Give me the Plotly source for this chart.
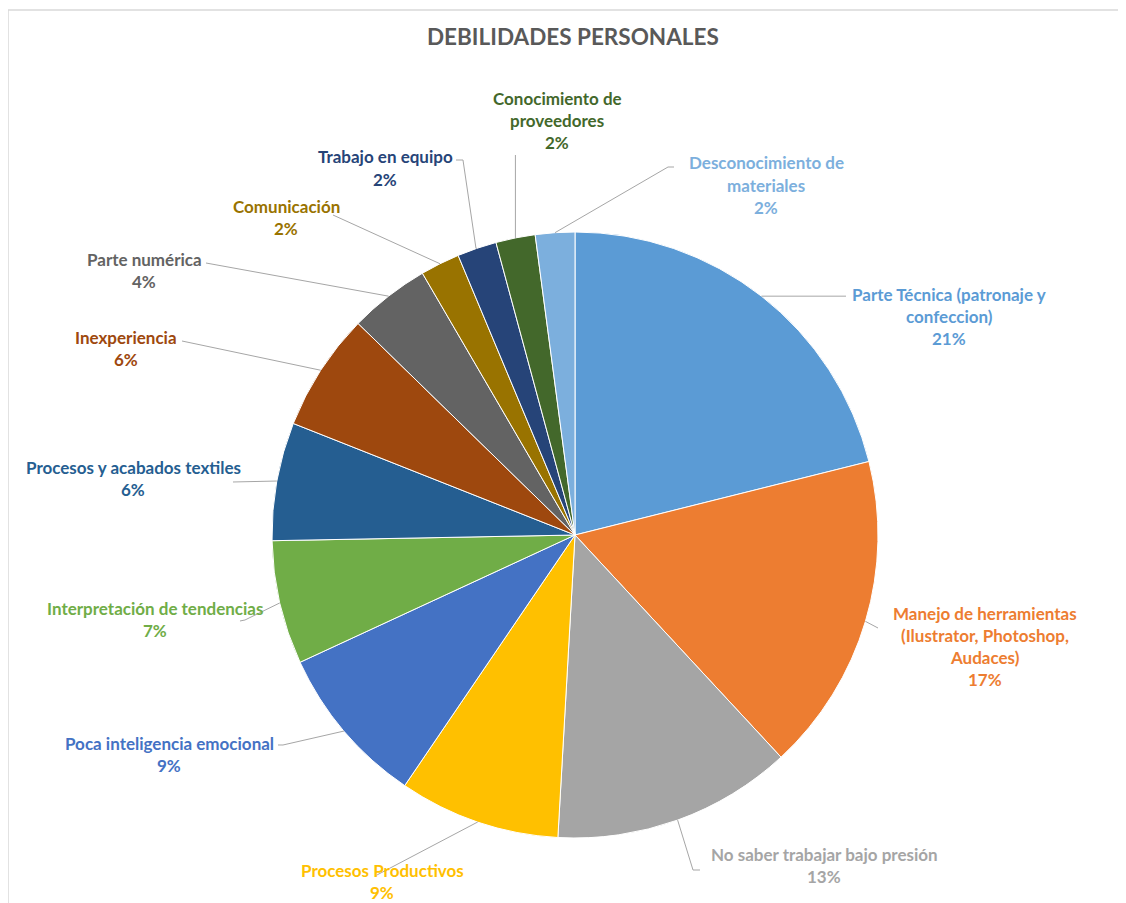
import math
import plotly.graph_objects as go

# ---------------- data ----------------
categories = [
    "Parte Técnica (patronaje y confeccion)",
    "Manejo de herramientas (Ilustrator, Photoshop, Audaces)",
    "No saber trabajar bajo presión",
    "Procesos Productivos",
    "Poca inteligencia emocional",
    "Interpretación de tendencias",
    "Procesos y acabados textiles",
    "Inexperiencia",
    "Parte numérica",
    "Comunicación",
    "Trabajo en equipo",
    "Conocimiento de proveedores",
    "Desconocimiento de materiales",
]
values = [21.1, 17.0, 12.8, 8.6, 8.6, 6.6, 6.3, 6.3, 4.3, 2.1, 2.1, 2.1, 2.1]
label_lines = [
    ["Parte Técnica (patronaje y", "confeccion)"],
    ["Manejo de herramientas", "(Ilustrator, Photoshop,", "Audaces)"],
    ["No saber trabajar bajo presión"],
    ["Procesos Productivos"],
    ["Poca inteligencia emocional"],
    ["Interpretación de tendencias"],
    ["Procesos y acabados textiles"],
    ["Inexperiencia"],
    ["Parte numérica"],
    ["Comunicación"],
    ["Trabajo en equipo"],
    ["Conocimiento de", "proveedores"],
    ["Desconocimiento de", "materiales"],
]
title_text = "DEBILIDADES PERSONALES"

# ---------------- style / layout ----------------
colors = ["#5B9BD5", "#ED7D31", "#A5A5A5", "#FFC000", "#4472C4", "#70AD47",
          "#255E91", "#9E480E", "#636363", "#997300", "#264478", "#43682B", "#7CAFDD"]

W_FIG, H_FIG = 1126, 903
OFF = 8                          # page body margin
S = 606                          # pie plot area (square)
L, T = 272 - OFF, 232 - OFF      # plot area origin in figure coords
CX, CY, R = 272 + S / 2, 232 + S / 2, S / 2   # in screen pixels

def px(x):
    return (x - OFF - L) / S

def py(y):
    return (T + S - (y - OFF)) / S

# label placement (screen pixel positions of first text line centre)
label_pos = [(949, 294), (985, 613), (824, 854), (382, 870), (169, 743), (155, 608),
             (133, 467), (126, 337), (144, 259), (286, 206), (385, 157), (557, 98), (766, 163)]
LINE_H = 22.3
# leader line extra points (screen pixel), from slice edge toward label
leader_pts = [
    [(846, None)],
    [(878, 628)],
    [(693, 870), (700, 870)],
    [(375, 876)],
    [(283, 745), (278, 745)],
    [(245, 620), (240, 621)],
    [(233, 482)],
    [(182, 341)],
    [(206, 263)],
    [(333, 215)],
    [(476, None), (463, 160), (456, 160)],
    [(None, 155)],
    [(668, 167), (674, 167)],
]

fig = go.Figure(go.Pie(
    labels=categories,
    values=values,
    sort=False,
    direction="clockwise",
    rotation=0,
    textinfo="none",
    hoverinfo="label+percent",
    marker=dict(colors=colors, line=dict(color="white", width=1)),
    showlegend=False,
))

total = sum(values)
annotations = []
shapes = []
cum = 0.0
for i, v in enumerate(values):
    mid = (cum + v / 2) / total * 2 * math.pi
    cum += v
    ex = CX + R * math.sin(mid)
    ey = CY - R * math.cos(mid)
    pct = int(math.floor(v / total * 100 + 0.5))
    lines = label_lines[i] + [f"{pct}%"]
    lx, ly = label_pos[i]
    for j, t in enumerate(lines):
        annotations.append(dict(
            x=px(lx), y=py(ly + j * LINE_H), xref="paper", yref="paper",
            text="<b>" + t + "</b>", showarrow=False, xanchor="center", yanchor="middle",
            font=dict(family="Lato", size=17, color=colors[i]),
        ))
    pts = [(ex, ey)]
    for (qx, qy) in leader_pts[i]:
        qx = ex if qx is None else qx
        qy = ey if qy is None else qy
        pts.append((qx, qy))
    path = "M " + " L ".join(f"{px(a):.5f},{py(b):.5f}" for a, b in pts)
    shapes.append(dict(type="path", xref="paper", yref="paper", path=path,
                       line=dict(color="#A6A6A6", width=1)))

# title
annotations.append(dict(
    x=px(573), y=py(37), xref="paper", yref="paper", text="<b>" + title_text + "</b>",
    showarrow=False, xanchor="center", yanchor="middle",
    font=dict(family="Lato", size=22.5, color="#595959"),
))

# chart border (top + left)
shapes.append(dict(type="line", xref="paper", yref="paper",
                   x0=px(8), y0=py(10), x1=px(1140), y1=py(10),
                   line=dict(color="#D9D9D9", width=1.5)))
shapes.append(dict(type="line", xref="paper", yref="paper",
                   x0=px(8), y0=py(10), x1=px(8), y1=py(920),
                   line=dict(color="#D9D9D9", width=1.5)))

fig.update_layout(
    width=W_FIG, height=H_FIG,
    margin=dict(l=L, r=W_FIG - L - S, t=T, b=H_FIG - T - S, autoexpand=False),
    paper_bgcolor="white", plot_bgcolor="white",
    annotations=annotations, shapes=shapes,
)

fig.write_html("out.html")
